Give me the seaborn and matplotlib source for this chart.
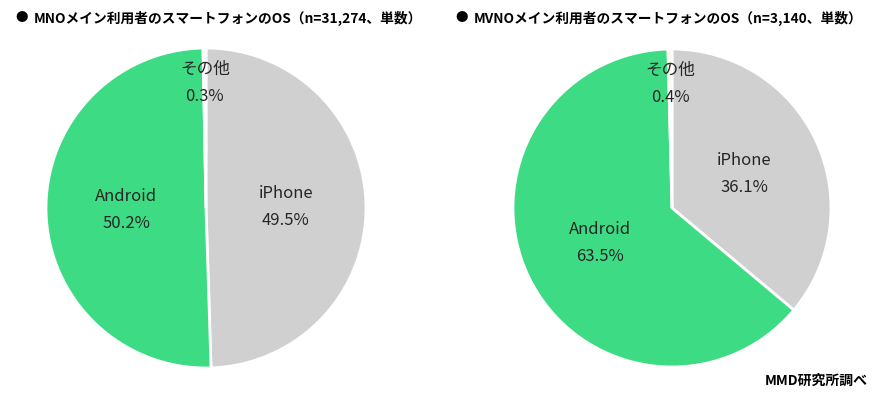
import matplotlib
matplotlib.use("Agg")
import matplotlib.pyplot as plt
import seaborn as sns
import numpy as np

sns.set_theme(style="white")
plt.rcParams['font.family'] = ['Noto Sans CJK JP', 'DejaVu Sans']

categories = ["iPhone", "Android", "その他"]
mno_values = [49.5, 50.2, 0.3]
mvno_values = [36.1, 63.5, 0.4]
titles = ["MNOメイン利用者のスマートフォンのOS（n=31,274、単数）",
          "MVNOメイン利用者のスマートフォンのOS（n=3,140、単数）"]
source = "MMD研究所調べ"

colors = ["#D0D0D0", "#3DDC84", "#FFF2CC"]
text_color = "#262626"

W, H = 879, 398
fig = plt.figure(figsize=(W / 100, H / 100), dpi=100)

def px_axes(cx, cy, r):
    return fig.add_axes([(cx - r) / W, (H - cy - r) / H, 2 * r / W, 2 * r / H])

specs = [((206, 208, 160), mno_values, titles[0], 15),
         ((672, 208, 159), mvno_values, titles[1], 455)]

for (cx, cy, r), vals, title, tx in specs:
    ax = px_axes(cx, cy, r)
    wedges, _ = ax.pie(vals, colors=colors, startangle=90, counterclock=False,
                       wedgeprops=dict(edgecolor="white", linewidth=2),
                       radius=1.0)
    ax.set_xlim(-1, 1)
    ax.set_ylim(-1, 1)
    ax.set_aspect("equal")
    ax.axis("off")
    for w, cat, v in zip(wedges, categories, vals):
        ang = np.deg2rad((w.theta1 + w.theta2) / 2)
        d = 0.78 if v < 5 else 0.5
        x, y = d * np.cos(ang), d * np.sin(ang)
        ax.text(x, y + 0.085, cat, ha="center", va="center", fontsize=12, color=text_color)
        ax.text(x, y - 0.085, f"{v:.1f}%", ha="center", va="center", fontsize=12, color=text_color)
    fig.text(tx / W, 1 - 18 / H, "●", ha="left", va="center", fontsize=9, color="black")
    fig.text((tx + 19) / W, 1 - 18 / H, title, ha="left", va="center", fontsize=9.9,
             fontweight="bold", color="black")

fig.text(868 / W, 1 - 381 / H, source, ha="right", va="center", fontsize=10,
         fontweight="bold", color="black")

fig.savefig("out.png", dpi=100, facecolor="white")
